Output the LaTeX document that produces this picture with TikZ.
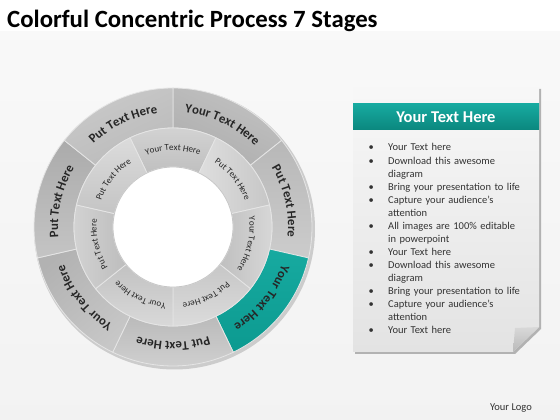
\documentclass[tikz,border=0pt]{standalone}
\usepackage{fontspec}
\setmainfont{Carlito}
\usetikzlibrary{decorations.text}
\definecolor{tealA}{HTML}{17AAA0}
\definecolor{tealB}{HTML}{0B877E}
\definecolor{tealC}{HTML}{0C9A90}
\newcommand\seg[5]{\path[#5] (#1:#3) arc[start angle=#1,end angle=#2,radius=#3] -- (#2:#4) arc[start angle=#2,end angle=#1,radius=#4] -- cycle;}
\newcommand\ringlabel[5]{\path[decorate,decoration={text along path,text align=center,text color=#4,text={|#3|#5}}] ({#1+25}:#2) arc[start angle={#1+25},end angle={#1-25},radius=#2];}
\newcommand\ofont{\bfseries\fontsize{12.8}{12.8}\selectfont}
\newcommand\ifont{\fontsize{9}{9}\selectfont}
\tikzset{
  segline/.style={draw=white!80!gray,line width=0.8pt},
}
\begin{document}
\begin{tikzpicture}[x=1pt,y=1pt]
\useasboundingbox (0,0) rectangle (560,420);
\fill[white] (0,0) rectangle (560,420);
\fill[top color=gray!5,bottom color=gray!10] (0,0) rectangle (560,388);
\node[anchor=base west,inner sep=0,font=\bfseries\fontsize{24.8}{24.8}\selectfont] (title) at (7,392) {Colorful Concentric Process 7 Stages};
% ring
\begin{scope}[shift={(173,193)}]
  \fill[gray!40] (1.5,-2) circle (140.5);
  % outer ring
  \seg{90}{38.57}{139}{99}{segline,top color=gray!48,bottom color=gray!64,shading angle=-25}
  \seg{38.57}{-12.86}{139}{99}{segline,left color=gray!56,right color=gray!40,shading angle=0}
  \seg{-12.86}{-64.29}{139}{99}{segline,top color=tealA,bottom color=tealC}
  \seg{-64.29}{-115.71}{139}{99}{segline,top color=gray!54,bottom color=gray!36}
  \seg{-115.71}{-167.14}{139}{99}{segline,top color=gray!60,bottom color=gray!44,shading angle=40}
  \seg{-167.14}{-218.57}{139}{99}{segline,top color=gray!66,bottom color=gray!46}
  \seg{141.43}{90}{139}{99}{segline,top color=gray!42,bottom color=gray!54,shading angle=25}
  % inner ring
  \seg{115.71}{64.29}{99}{60}{segline,top color=gray!34,bottom color=gray!50}
  \seg{64.29}{12.86}{99}{60}{segline,left color=gray!26,right color=gray!44}
  \seg{12.86}{-38.57}{99}{60}{segline,left color=gray!50,right color=gray!30}
  \seg{-38.57}{-90}{99}{60}{segline,top color=gray!44,bottom color=gray!28}
  \seg{-90}{-141.43}{99}{60}{segline,top color=gray!48,bottom color=gray!30}
  \seg{-141.43}{-192.86}{99}{60}{segline,left color=gray!34,right color=gray!52}
  \seg{-192.86}{-244.29}{99}{60}{segline,top color=gray!28,bottom color=gray!46}
  \fill[white] (0,0) circle (60);
  \draw[gray!45,line width=0.8pt] (0,0) circle (60);
  % outer labels
  \ringlabel{64.29}{115}{\ofont}{black!85}{Your Text Here}
  \ringlabel{12.86}{115}{\ofont}{black!85}{Put Text Here}
  \ringlabel{-38.57}{115}{\ofont}{black!85}{Your Text Here}
  \ringlabel{-90}{115}{\ofont}{black!85}{Put Text Here}
  \ringlabel{-141.43}{115}{\ofont}{black!85}{Your Text Here}
  \ringlabel{167.14}{115}{\ofont}{black!85}{Put Text Here}
  \ringlabel{115.71}{115}{\ofont}{black!85}{Put Text Here}
  % inner labels
  \ringlabel{90}{76.5}{\ifont}{black!85}{Your Text Here}
  \ringlabel{38.57}{76.5}{\ifont}{black!85}{Put Text Here}
  \ringlabel{-12.86}{76.5}{\ifont}{black!85}{Your Text Here}
  \ringlabel{-64.29}{76.5}{\ifont}{black!85}{Put Text Here}
  \ringlabel{-115.71}{76.5}{\ifont}{black!85}{Your Text Here}
  \ringlabel{-167.14}{76.5}{\ifont}{black!85}{Put Text Here}
  \ringlabel{141.43}{76.5}{\ifont}{black!85}{Put Text Here}
\end{scope}
% panel
\fill[gray!60] (355,331) -- (541,331) -- (541,91) -- (515,66) -- (355,66) -- cycle;
\path[top color=gray!6,bottom color=gray!22] (353,332) -- (539,332) -- (539,93) -- (513,68) -- (353,68) -- cycle;
\path[top color=gray!30,bottom color=gray!55] (539,93) -- (515,92) -- (513,68) -- cycle;
\path[top color=tealA,bottom color=tealB] (353,316) rectangle (539,290);
\node[font=\bfseries\fontsize{16.5}{16.5}\selectfont,text=white] (head) at (446,303) {Your Text Here};
\newcommand\bitem{\makebox[19.5pt][l]{\textbullet}}
\newcommand\cont{\hspace*{19.5pt}}
\node[anchor=north west,inner sep=0,text width=175pt,align=left,text=black!80,font=\fontsize{10.5}{13.07}\selectfont] (list) at (368.5,276.5) {%
\bitem Your Text here\\
\bitem Download this awesome\\
\cont diagram\\
\bitem Bring your presentation to life\\
\bitem Capture your audience’s\\
\cont attention\\
\bitem All images are 100\% editable\\
\cont in powerpoint\\
\bitem Your Text here\\
\bitem Download this awesome\\
\cont diagram\\
\bitem Bring your presentation to life\\
\bitem Capture your audience’s\\
\cont attention\\
\bitem Your Text here};
\node[font=\fontsize{10.5}{10.5}\selectfont,text=black!80] (logo) at (511,12) {Your Logo};
\end{tikzpicture}
\end{document}
